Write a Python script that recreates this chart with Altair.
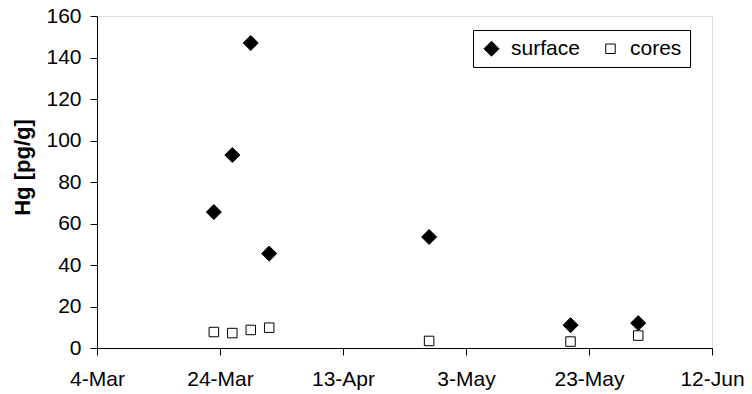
import altair as alt
import pandas as pd

dates = ["2001-03-23", "2001-03-26", "2001-03-29", "2001-04-01",
         "2001-04-27", "2001-05-20", "2001-05-31"]
surface = [65.5, 93, 147, 45.5, 53.5, 11, 12]
cores = [7.7, 7.2, 8.7, 9.8, 3.4, 3.1, 6.0]
series = ["surface", "cores"]
x_ticks = [(3, 4), (3, 24), (4, 13), (5, 3), (5, 23), (6, 12)]
y_ticks = [0, 20, 40, 60, 80, 100, 120, 140, 160]

rows = []
for d, s in zip(dates, surface):
    rows.append({"date": d, "hg": s, "type": "surface"})
for d, c in zip(dates, cores):
    rows.append({"date": d, "hg": c, "type": "cores"})
df = pd.DataFrame(rows)

FONT = "Liberation Sans"

def dt(m, d):
    return alt.DateTime(year=2001, month=m, date=d, utc=True)

x = alt.X(
    "date:T",
    scale=alt.Scale(type="utc", domain=[dt(3, 4), dt(6, 12)], nice=False),
    axis=alt.Axis(
        values=[dt(m, d) for m, d in x_ticks],
        labelExpr="utcFormat(datum.value, '%-d-%b')",
        title=None,
        grid=False,
        tickSize=7,
        labelPadding=13,
        labelFontSize=21,
        labelFont=FONT,
        labelColor="black",
        domainColor="black",
        tickColor="black",
        labelFlush=False,
        labelOverlap=False,
    ),
)
y = alt.Y(
    "hg:Q",
    scale=alt.Scale(domain=[0, 160], nice=False),
    axis=alt.Axis(
        values=y_ticks,
        title="Hg [pg/g]",
        titleFont=FONT,
        titleFontSize=22,
        titleFontWeight="bold",
        titleColor="black",
        titleAngle=-90,
        titleX=-75,
        titleY=151,
        titleAlign="center",
        titleBaseline="middle",
        grid=False,
        tickSize=7,
        labelPadding=9,
        labelFontSize=21,
        labelFont=FONT,
        labelColor="black",
        domainColor="black",
        tickColor="black",
    ),
)

legend = alt.Legend(
    title=None,
    orient="none",
    legendX=376,
    legendY=14,
    direction="horizontal",
    strokeColor="black",
    fillColor="white",
    padding=8,
    labelFont=FONT,
    labelFontSize=21,
    labelColor="black",
    labelOffset=9,
    columnPadding=20,
    symbolStrokeWidth=1,
)

chart = (
    alt.Chart(df)
    .mark_point(filled=True, strokeWidth=1, opacity=1)
    .encode(
        x=x,
        y=y,
        shape=alt.Shape("type:N", scale=alt.Scale(domain=series, range=["diamond", "square"]), legend=legend),
        fill=alt.Fill("type:N", scale=alt.Scale(domain=series, range=["black", "white"]), legend=legend),
        stroke=alt.Stroke("type:N", scale=alt.Scale(domain=series, range=["black", "black"]), legend=legend),
        size=alt.Size("type:N", scale=alt.Scale(domain=series, range=[225, 90]), legend=legend),
    )
    .properties(
        width=615,
        height=332,
        autosize="none",
        padding={"left": 97, "top": 16, "right": 40, "bottom": 46},
    )
    .configure_view(stroke="black", strokeWidth=1)
    .configure(background="white")
)

chart.save("out.html", embed_options={"renderer": "svg", "actions": False})
